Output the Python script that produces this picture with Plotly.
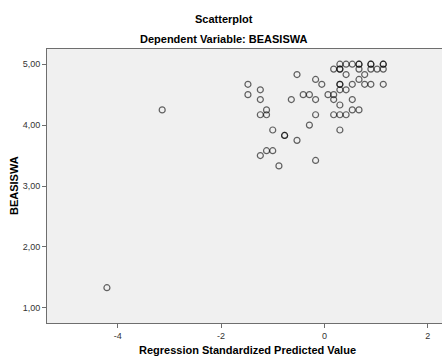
import plotly.graph_objects as go

# Regression standardized predicted values (x) and BEASISWA (y)
pred_values = [
    0.30, 0.42, 0.54, 0.67, 0.67, 0.90, 0.90, 1.14, 1.14,
    0.18, 0.30, 0.30, 0.67, 0.90, 1.02, 1.14,
    -0.53, 0.42, 0.78,
    -0.17, 0.67,
    -1.48, -0.05, 0.30, 0.30, 0.54, 0.78, 0.90, 1.14,
    -1.24, 0.30, 0.42,
    -1.48, -0.41, -0.29, 0.07, 0.18,
    -1.24, -0.64, -0.17, 0.18, 0.54,
    0.30,
    -3.14, -1.12, 0.54, 0.67,
    -1.24, -1.12, -0.17, 0.18, 0.30, 0.42,
    -0.29,
    -1.00, 0.30,
    -0.77, -0.77,
    -0.53,
    -1.12, -1.00,
    -1.24,
    -0.17,
    -0.88,
    -4.21,
]
beasiswa = [
    5.00, 5.00, 5.00, 5.00, 5.00, 5.00, 5.00, 5.00, 5.00,
    4.92, 4.92, 4.92, 4.92, 4.92, 4.92, 4.92,
    4.83, 4.83, 4.83,
    4.75, 4.75,
    4.67, 4.67, 4.67, 4.67, 4.67, 4.67, 4.67, 4.67,
    4.58, 4.58, 4.58,
    4.50, 4.50, 4.50, 4.50, 4.50,
    4.42, 4.42, 4.42, 4.42, 4.42,
    4.33,
    4.25, 4.25, 4.25, 4.25,
    4.17, 4.17, 4.17, 4.17, 4.17, 4.17,
    4.00,
    3.92, 3.92,
    3.83, 3.83,
    3.75,
    3.58, 3.58,
    3.50,
    3.42,
    3.33,
    1.33,
]
x_ticks = [-4, -2, 0, 2]
x_tick_labels = ["-4", "-2", "0", "2"]
y_ticks = [1, 2, 3, 4, 5]
y_tick_labels = ["1,00", "2,00", "3,00", "4,00", "5,00"]

FONT = "Liberation Sans, Arial, sans-serif"
AXIS_COLOR = "#6e6e6e"
BOLD = dict(size=11, color="#000000", family=FONT)

fig = go.Figure()
fig.add_trace(go.Scatter(
    x=pred_values, y=beasiswa, mode="markers",
    marker=dict(symbol="circle-open", size=6,
                line=dict(color="rgba(0,0,0,0.6)", width=1.2),
                color="rgba(0,0,0,0.6)"),
    hoverinfo="x+y", showlegend=False,
))

fig.update_layout(
    width=442, height=356,
    margin=dict(l=47, r=0, t=49, b=33, autoexpand=False),
    paper_bgcolor="white", plot_bgcolor="#f0f0f0",
    font=dict(family=FONT, size=9, color="#333333"),
    annotations=[
        dict(text="<b>Scatterplot</b>", xref="paper", yref="paper",
             x=0.448, y=1, yshift=30, showarrow=False, xanchor="center", yanchor="middle",
             font=BOLD),
        dict(text="<b>Dependent Variable: BEASISWA</b>", xref="paper", yref="paper",
             x=0.448, y=1, yshift=10, showarrow=False, xanchor="center", yanchor="middle",
             font=BOLD),
        dict(text="<b>Regression Standardized Predicted Value</b>", xref="paper", yref="paper",
             x=0.5067, y=0, yshift=-27, showarrow=False, xanchor="center", yanchor="middle",
             font=BOLD),
        dict(text="<b>BEASISWA</b>", xref="paper", yref="paper", textangle=-90,
             x=0, xshift=-33, y=0.5, showarrow=False, xanchor="center", yanchor="middle",
             font=BOLD),
    ],
)
fig.update_xaxes(
    range=[-5.37, 2.277], tickvals=x_ticks, ticktext=x_tick_labels,
    showgrid=False, zeroline=False, automargin=False,
    showline=True, linecolor=AXIS_COLOR, linewidth=1, mirror=True,
    ticks="outside", ticklen=4, tickcolor=AXIS_COLOR,
)
fig.update_yaxes(
    range=[0.75, 5.25], tickvals=y_ticks, ticktext=y_tick_labels,
    showgrid=False, zeroline=False, automargin=False,
    showline=True, linecolor=AXIS_COLOR, linewidth=1, mirror=False,
    ticks="outside", ticklen=4, tickcolor=AXIS_COLOR,
)

fig.write_html(
    "out.html",
    config={"displayModeBar": False},
    post_script="document.body.style.margin='0';document.body.style.overflow='hidden';",
)
